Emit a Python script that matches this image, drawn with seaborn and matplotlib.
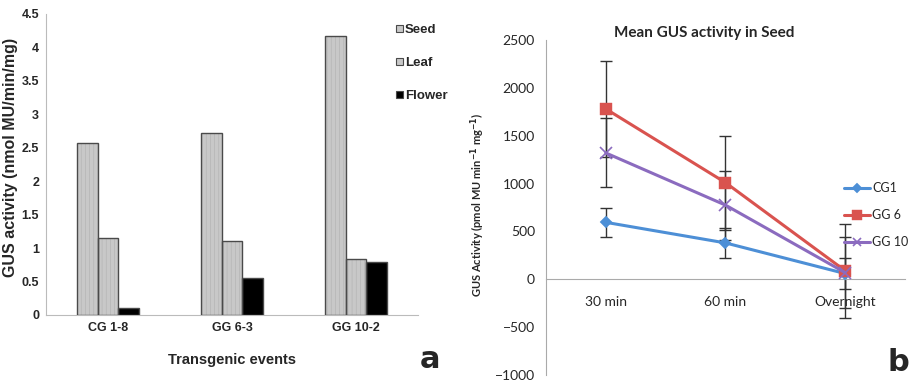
import numpy as np
import pandas as pd
import seaborn as sns
import matplotlib.pyplot as plt

# Panel a: GUS activity by tissue
events = ['CG 1-8', 'GG 6-3', 'GG 10-2']
tissues = ['Seed', 'Leaf', 'Flower']
seed = [2.57, 2.72, 4.17]
leaf = [1.15, 1.11, 0.83]
flower = [0.10, 0.55, 0.79]

# Panel b: mean GUS activity in seed over time
times = ['30 min', '60 min', 'Overnight']
lines = ['CG1', 'GG 6', 'GG 10']
cg1 = [595, 380, 60]
gg6 = [1780, 1010, 90]
gg10 = [1320, 775, 70]
cg1_err = [155, 160, 160]
gg6_err = [500, 490, 490]
gg10_err = [360, 360, 370]

sns.set_style('white')
plt.rcParams['hatch.linewidth'] = 0.5
narrow = ['Liberation Sans Narrow', 'Liberation Sans', 'DejaVu Sans']
cal = ['Lato', 'Open Sans', 'DejaVu Sans']

fig = plt.figure(figsize=(9.15, 3.82), dpi=100)
ax1 = fig.add_axes([0.0503, 0.1754, 0.4067, 0.788])
ax2 = fig.add_axes([0.5967, 0.0183, 0.3923, 0.877])

# ---- panel a ----
df_a = pd.DataFrame({
    'event': events * 3,
    'tissue': [t for t in tissues for _ in events],
    'value': seed + leaf + flower,
})
sns.barplot(data=df_a, x='event', y='value', hue='tissue', ax=ax1,
            palette=['#c8c8c8', '#c8c8c8', '#000000'], width=0.5,
            edgecolor='#b4b4b4', linewidth=0, errorbar=None, legend=True)
# faint vertical stripes inside the grey bars, then a dark outline on top
for bar_group, h in zip(ax1.containers, ['||||', '||||', '']):
    for p in bar_group:
        p.set_hatch(h)
        ax1.add_patch(plt.Rectangle(p.get_xy(), p.get_width(), p.get_height(),
                                    fill=False, ec='#4a4a4a', lw=1.0, zorder=3))
ax1.set_ylim(0, 4.5)
ax1.set_xlim(-0.5, 2.5)
ax1.set_yticks(np.arange(0, 4.51, 0.5))
ax1.set_yticklabels(['0', '0.5', '1', '1.5', '2', '2.5', '3', '3.5', '4', '4.5'])
for s in ['top', 'right']:
    ax1.spines[s].set_visible(False)
ax1.spines['left'].set_color('#bbbbbb')
ax1.spines['bottom'].set_color('#bbbbbb')
ax1.tick_params(axis='both', length=0, pad=5)
for lab in ax1.get_xticklabels() + ax1.get_yticklabels():
    lab.set_fontfamily(narrow)
    lab.set_fontweight('bold')
    lab.set_fontsize(9)
ax1.set_xlabel('Transgenic events', fontfamily=narrow, fontweight='bold', fontsize=10.5)
ax1.xaxis.set_label_coords(0.5, -0.125)
ax1.set_ylabel('GUS activity (nmol MU/min/mg)', fontfamily=narrow, fontweight='bold', fontsize=11.5)
ax1.yaxis.set_label_coords(-0.075, 0.525)
leg1 = ax1.legend(loc='upper left', bbox_to_anchor=(0.93, 0.98), frameon=False,
                  borderaxespad=0, borderpad=0.3,
                  handlelength=0.5, handleheight=0.5, handletextpad=0.15,
                  labelspacing=1.6, prop={'family': narrow, 'weight': 'bold', 'size': 9.5})
for h in leg1.legend_handles:
    h.set_hatch(None)
    h.set_edgecolor('#4a4a4a')
    h.set_linewidth(0.8)
fig.text(0.47, 0.06, 'a', fontsize=22, fontweight='bold', ha='center', va='center')

# ---- panel b ----
x_pos = [0, 1, 2]
df_b = pd.DataFrame({
    'pos': x_pos * 3,
    'line': [l for l in lines for _ in times],
    'value': cg1 + gg6 + gg10,
})
colors = ['#4d8fd6', '#d9534f', '#8b6bbf']
markers = ['D', 's', 'x']
msizes = [6, 9, 8]
for vals, errs in [(gg6, gg6_err), (gg10, gg10_err), (cg1, cg1_err)]:
    ax2.errorbar(x_pos, vals, yerr=errs, fmt='none', ecolor='#333333',
                 elinewidth=1.0, capsize=4, capthick=1.0, zorder=1)
for name, c, m, ms in zip(lines, colors, markers, msizes):
    sns.lineplot(data=df_b[df_b['line'] == name], x='pos', y='value', color=c,
                 marker=m, markersize=ms, markeredgewidth=1.2 if m == 'x' else 0.3,
                 markeredgecolor=c, linewidth=2.2, label=name, ax=ax2, zorder=3)
ax2.set_xlim(-0.5, 2.5)
ax2.set_ylim(-1000, 2500)
ax2.set_xticks(x_pos)
ax2.set_xticklabels(times)
ax2.set_xticks([0.5, 1.5, 2.5], minor=True)
ax2.set_yticks(np.arange(-1000, 2501, 500))
for s in ['top', 'right']:
    ax2.spines[s].set_visible(False)
ax2.spines['bottom'].set_position(('data', 0))
ax2.spines['left'].set_color('#aaaaaa')
ax2.spines['bottom'].set_color('#aaaaaa')
ax2.tick_params(axis='x', which='major', length=0, pad=12)
ax2.tick_params(axis='x', which='minor', length=4, color='#aaaaaa', direction='in')
ax2.tick_params(axis='y', length=4, color='#aaaaaa', direction='out', pad=4)
for lab in ax2.get_xticklabels() + ax2.get_yticklabels():
    lab.set_fontfamily(cal)
    lab.set_fontsize(10)
ax2.set_xlabel('')
ax2.set_ylabel('GUS Activity (pmol MU min$^{\\mathbf{-1}}$ mg$^{\\mathbf{-1}}$)',
               fontfamily=cal, fontweight='bold', fontsize=8)
ax2.yaxis.set_label_coords(-0.164, 0.507)
ax2.set_title('Mean GUS activity in Seed', fontfamily=cal, fontweight='bold',
              fontsize=11, pad=2.5, x=0.44)
ax2.legend(loc='upper left', bbox_to_anchor=(0.83, 0.575), frameon=False,
           handlelength=2.1, handletextpad=0.15, labelspacing=1.2, borderaxespad=0,
           borderpad=0, prop={'family': cal, 'size': 9}, markerscale=0.8)
fig.text(0.982, 0.052, 'b', fontsize=22, fontweight='bold', ha='center', va='center')

fig.savefig('out.png', dpi=100)
